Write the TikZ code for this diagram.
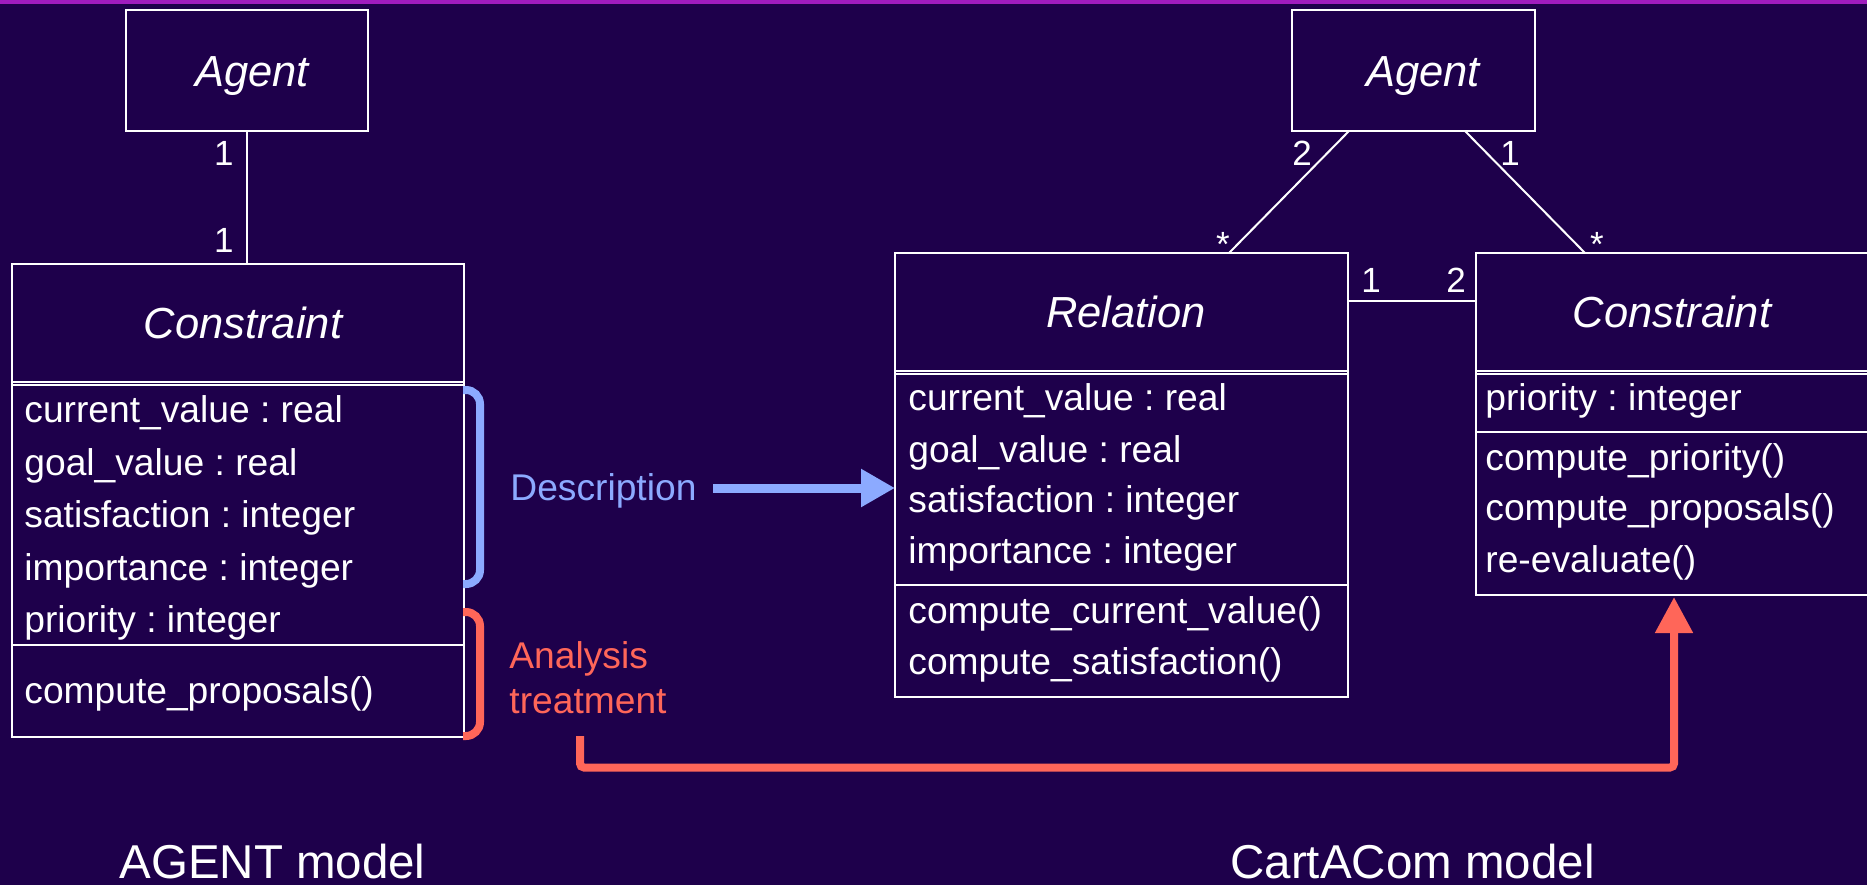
\documentclass[tikz,border=0pt]{standalone}
\usepackage{fontspec}
\setmainfont{Liberation Sans}
\usetikzlibrary{arrows.meta,calc}
\definecolor{bgpurple}{HTML}{1E004B}
\definecolor{topbar}{HTML}{A01CBE}
\definecolor{descblue}{HTML}{8CAAFF}
\definecolor{anared}{HTML}{FF6659}
\frenchspacing
\begin{document}
\begin{tikzpicture}[x=0.5pt,y=-0.5pt,
  umlbox/.style={draw=white,line width=1pt,inner sep=0pt,outer sep=0pt,anchor=north west},
  sepline/.style={draw=white,line width=0.7pt},
  conn/.style={draw=white,line width=1pt},
  ttl/.style={text=white,font=\fontsize{21.75pt}{24pt}\selectfont\itshape,anchor=base,inner sep=0pt},
  attr/.style={text=white,font=\fontsize{18.6pt}{22pt}\selectfont,anchor=base west,inner sep=0pt},
  mult/.style={text=white,font=\fontsize{17.5pt}{20pt}\selectfont,anchor=base west,inner sep=0pt},
  multr/.style={mult,anchor=base east},
  star/.style={mult,anchor=base},
  model/.style={text=white,font=\fontsize{23.75pt}{26pt}\selectfont,anchor=base west,inner sep=0pt},
  bluebr/.style={draw=descblue,line width=4pt,rounded corners=7pt},
  redbr/.style={draw=anared,line width=4pt,rounded corners=7pt},
  bluearrow/.style={draw=descblue,line width=4.5pt,-{Triangle[length=17pt,width=18pt]}},
  redarrow/.style={draw=anared,line width=4pt,rounded corners=2pt,-{Triangle[length=18pt,width=18pt]}}
]
\clip (0,0) rectangle (1867,885);
\fill[bgpurple] (0,0) rectangle (1867,885);
\fill[topbar] (0,0) rectangle (1867,3.5);

% ---------- AGENT model ----------
\node[umlbox,minimum width=121pt,minimum height=60.5pt] (agentL) at (126,10) {};
\node[ttl] (agentLt) at (252,86) {Agent};
\node[umlbox,minimum width=226pt,minimum height=236.5pt] (cL) at (12,264) {};
\draw[sepline] (12,382) -- (464,382);
\draw[sepline] (12,385) -- (464,385);
\draw[sepline] (12,645) -- (464,645);
\node[ttl] (cLt) at (243,338) {Constraint};
\node[attr] (cLa1) at (24,422) {current\_value : real};
\node[attr] (cLa2) at (24,475) {goal\_value : real};
\node[attr] (cLa3) at (24,527) {satisfaction : integer};
\node[attr] (cLa4) at (24,580) {importance : integer};
\node[attr] (cLa5) at (24,632) {priority : integer};
\node[attr] (cLm1) at (24,703) {compute\_proposals()};
\draw[conn] (agentL.south) -- (agentL.south |- cL.north);
\node[multr] (mL1) at (234,165) {1};
\node[multr] (mL2) at (234,252) {1};

% brackets and labels
\draw[bluebr] (463,390) -- (480,390) -- (480,584) -- (463,584);
\draw[redbr] (463,612) -- (480,612) -- (480,736) -- (463,736);
\node[attr,text=descblue] (desc) at (510,500) {Description};
\node[attr,text=anared] (ana1) at (509,668) {Analysis};
\node[attr,text=anared] (ana2) at (509,713) {treatment};

% ---------- CartACom model ----------
\node[umlbox,minimum width=121.5pt,minimum height=60.5pt] (agentR) at (1292,10) {};
\node[ttl] (agentRt) at (1423,86) {Agent};
\node[umlbox,minimum width=226.5pt,minimum height=222pt] (rel) at (895,253) {};
\draw[sepline] (895,371) -- (1348,371);
\draw[sepline] (895,374) -- (1348,374);
\draw[sepline] (895,585) -- (1348,585);
\node[ttl] (relt) at (1126,327) {Relation};
\node[attr] (rela1) at (908,410) {current\_value : real};
\node[attr] (rela2) at (908,462) {goal\_value : real};
\node[attr] (rela3) at (908,512) {satisfaction : integer};
\node[attr] (rela4) at (908,563) {importance : integer};
\node[attr] (relm1) at (908,623) {compute\_current\_value()};
\node[attr] (relm2) at (908,674) {compute\_satisfaction()};

\node[umlbox,minimum width=210pt,minimum height=171pt] (cR) at (1476,253) {};
\draw[sepline] (1476,371) -- (1900,371);
\draw[sepline] (1476,374) -- (1900,374);
\draw[sepline] (1476,432) -- (1900,432);
\node[ttl] (cRt) at (1672,327) {Constraint};
\node[attr] (cRa1) at (1485,410) {priority : integer};
\node[attr] (cRm1) at (1485,470) {compute\_priority()};
\node[attr] (cRm2) at (1485,520) {compute\_proposals()};
\node[attr] (cRm3) at (1485,572) {re-evaluate()};

\draw[conn] ([xshift=28.5pt]agentR.south west) -- ([xshift=-59.5pt]rel.north east);
\draw[conn] ([xshift=86.5pt]agentR.south west) -- ([xshift=54.5pt]cR.north west);
\draw[conn] ([yshift=-24pt]rel.north east) -- ([yshift=-24pt]cR.north west);
\node[mult] (mR1) at (1292,165) {2};
\node[mult] (mR2) at (1500,165) {1};
\node[star] (mR3) at (1223,256) {*};
\node[star] (mR4) at (1597,256) {*};
\node[mult] (mR5) at (1361,292) {1};
\node[mult] (mR6) at (1446,292) {2};

% arrows
\coordinate (blueStart) at (713,488);
\draw[bluearrow] (blueStart) -- (blueStart -| rel.west);
\coordinate (redStart) at (580,736);
\coordinate (redEnd) at (1674,597);
\draw[redarrow] (redStart) -- ++(0,31.5) -| (redEnd);

% model labels
\node[model] (agentModel) at (119,878) {AGENT model};
\node[model] (cartModel) at (1230,878) {CartACom model};
\end{tikzpicture}
\end{document}
